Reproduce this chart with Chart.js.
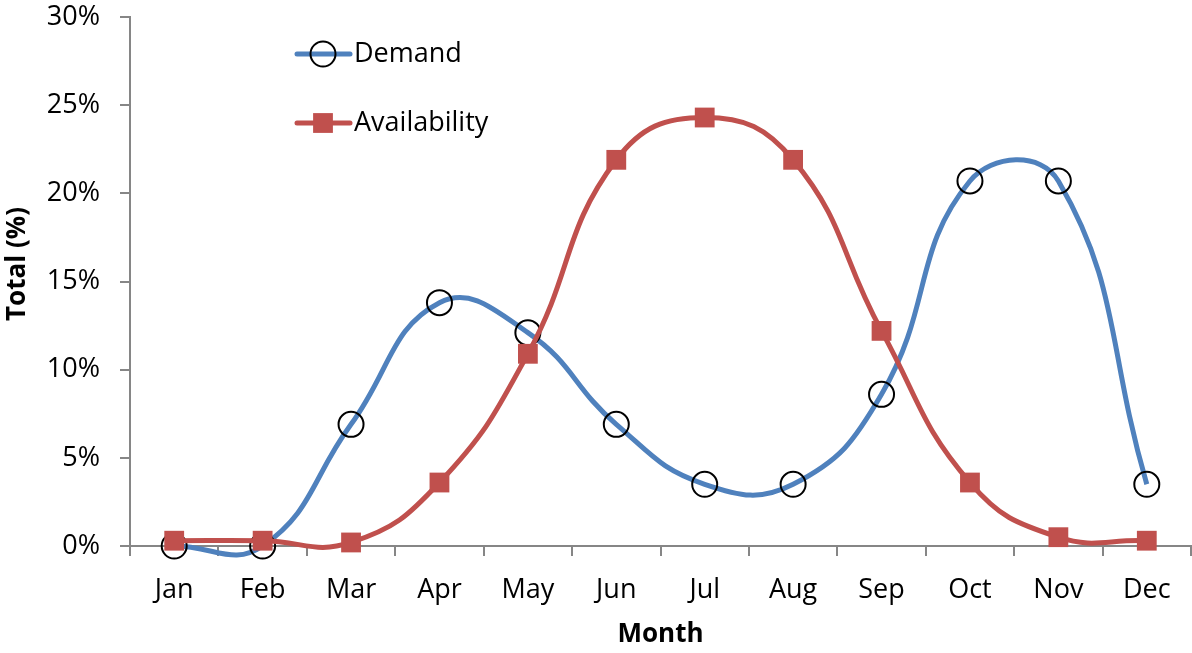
<!DOCTYPE html>
<html>
<head>
<meta charset="utf-8">
<script src="https://cdn.jsdelivr.net/npm/chart.js@4/dist/chart.umd.min.js"></script>
<style>
  html, body { margin: 0; padding: 0; background: #ffffff; }
  #wrap { width: 1192px; height: 653px; }
</style>
</head>
<body>
<div id="wrap"><canvas id="chart" width="1192" height="653"></canvas></div>
<script>
// Monthly share of the yearly total, in percent
const months = ['Jan', 'Feb', 'Mar', 'Apr', 'May', 'Jun', 'Jul', 'Aug', 'Sep', 'Oct', 'Nov', 'Dec'];
const demand = [0, 0, 6.9, 13.8, 12.1, 6.9, 3.5, 3.5, 8.6, 20.7, 20.7, 3.5];
const availability = [0.3, 0.3, 0.2, 3.6, 10.9, 21.9, 24.3, 21.9, 12.2, 3.6, 0.5, 0.3];
const yTicks = [0, 5, 10, 15, 20, 25, 30];
const yTitle = 'Total (%)';
const xTitle = 'Month';

const FONT = '"Open Sans", Lato, sans-serif';
const AXIS_GREY = '#868686';
const BLUE = '#4F81BD';
const RED = '#C0504D';

function drawMarker(ctx, ds, x, y) {
  Chart.helpers.drawPoint(ctx, {
    pointStyle: ds.pointStyle,
    radius: ds.pointRadius,
    rotation: 0,
    borderWidth: ds.pointBorderWidth
  }, x, y);
}

// Legend drawn inside the plot, at the upper left, plus the rotated y title
const insideLegend = {
  id: 'insideLegend',
  afterDatasetsDraw(chart) {
    const ctx = chart.ctx;
    const rows = [
      { ds: chart.data.datasets[1], y: 54 },
      { ds: chart.data.datasets[0], y: 123 }
    ];
    ctx.save();
    rows.forEach(({ ds, y }) => {
      const x0 = 297, x1 = 350, xm = 323;
      ctx.strokeStyle = ds.borderColor;
      ctx.lineWidth = ds.borderWidth;
      ctx.lineCap = 'round';
      ctx.beginPath();
      ctx.moveTo(x0, y);
      ctx.lineTo(x1, y);
      ctx.stroke();
      ctx.fillStyle = ds.pointBackgroundColor;
      ctx.strokeStyle = ds.pointBorderColor;
      ctx.lineWidth = ds.pointBorderWidth;
      drawMarker(ctx, ds, xm, y);
      ctx.fillStyle = '#000000';
      ctx.font = '27px ' + FONT;
      ctx.textBaseline = 'middle';
      ctx.textAlign = 'left';
      ctx.fillText(ds.label, 354, y);
    });

    // y axis title
    ctx.translate(18, 264);
    ctx.rotate(-Math.PI / 2);
    ctx.font = 'bold 26px ' + FONT;
    ctx.textAlign = 'center';
    ctx.textBaseline = 'middle';
    ctx.fillStyle = '#000000';
    ctx.fillText(yTitle, 0, 0);
    ctx.restore();
  }
};

new Chart(document.getElementById('chart'), {
  type: 'line',
  data: {
    labels: months,
    datasets: [
      {
        label: 'Availability',
        data: availability,
        borderColor: RED,
        borderWidth: 5,
        tension: 0.45,
        pointStyle: 'rect',
        pointRadius: 14,
        pointBackgroundColor: RED,
        pointBorderColor: RED,
        pointBorderWidth: 0,
        clip: false,
        order: 1
      },
      {
        label: 'Demand',
        data: demand,
        borderColor: BLUE,
        borderWidth: 5,
        tension: 0.45,
        pointStyle: 'circle',
        pointRadius: 12.5,
        pointBackgroundColor: 'rgba(0,0,0,0)',
        pointBorderColor: '#000000',
        pointBorderWidth: 2,
        clip: false,
        order: 2
      }
    ]
  },
  options: {
    responsive: false,
    animation: false,
    devicePixelRatio: 1,
    layout: { autoPadding: false, padding: { top: 17, right: 1, left: 0, bottom: 0 } },
    elements: { line: { capBezierPoints: false } },
    plugins: {
      legend: { display: false },
      tooltip: { enabled: false }
    },
    scales: {
      x: {
        type: 'category',
        offset: true,
        grid: {
          offset: true,
          drawOnChartArea: false,
          drawTicks: true,
          tickLength: 10,
          color: AXIS_GREY,
          lineWidth: 2
        },
        border: { display: true, color: AXIS_GREY, width: 2 },
        ticks: {
          color: '#000000',
          font: { family: FONT, size: 27 },
          padding: 18,
          maxRotation: 0,
          autoSkip: false
        },
        title: {
          display: true,
          text: xTitle,
          color: '#000000',
          font: { family: FONT, size: 26, weight: 'bold' },
          padding: { top: 0, bottom: 3 }
        },
        afterFit(scale) {
          scale.height = 107;
          scale.paddingLeft = 0;
          scale.paddingRight = 0;
        }
      },
      y: {
        min: 0,
        max: 30,
        afterBuildTicks(scale) { scale.ticks = yTicks.map(v => ({ value: v })); },
        grid: {
          drawOnChartArea: false,
          drawTicks: true,
          tickLength: 10,
          color: AXIS_GREY,
          lineWidth: 2
        },
        border: { display: true, color: AXIS_GREY, width: 2 },
        ticks: {
          color: '#000000',
          font: { family: FONT, size: 27 },
          padding: 20,
          callback: v => v + '%'
        },
        title: { display: false },
        afterFit(scale) {
          scale.width = 130;
          scale.paddingTop = 0;
          scale.paddingBottom = 0;
        }
      }
    }
  },
  plugins: [insideLegend]
});
</script>
</body>
</html>
